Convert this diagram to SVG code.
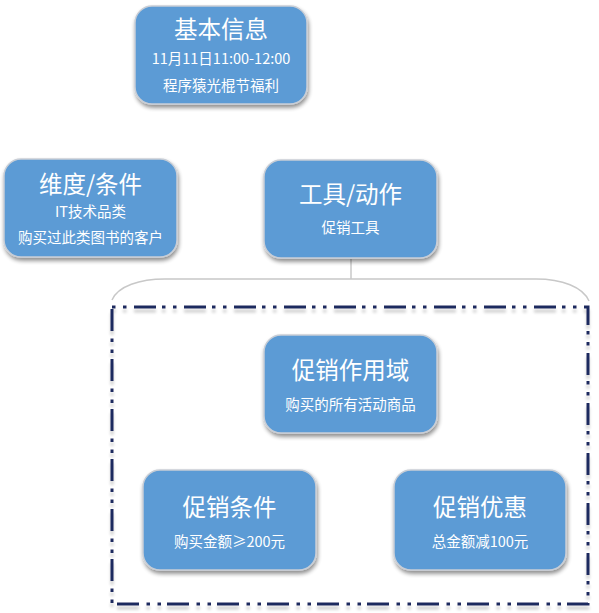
<svg xmlns="http://www.w3.org/2000/svg" width="599" height="613" viewBox="0 0 599 613">
<defs>
<filter id="sh" x="-10%" y="-10%" width="125%" height="130%">
<feGaussianBlur in="SourceAlpha" stdDeviation="2"/>
<feOffset dx="1" dy="3" result="b"/>
<feComponentTransfer><feFuncA type="linear" slope="0.45"/></feComponentTransfer>
<feMerge><feMergeNode/><feMergeNode in="SourceGraphic"/></feMerge>
</filter>
<filter id="sh2" x="-5%" y="-5%" width="110%" height="110%">
<feGaussianBlur in="SourceAlpha" stdDeviation="1.5"/>
<feOffset dx="0" dy="4" result="b"/>
<feComponentTransfer><feFuncA type="linear" slope="0.2"/></feComponentTransfer>
<feMerge><feMergeNode/><feMergeNode in="SourceGraphic"/></feMerge>
</filter>
</defs>
<style>
.box{fill:#5B9BD5;stroke:#C9CED6;stroke-width:1.5;filter:url(#sh)}
text{font-family:"Noto Sans CJK SC","Microsoft YaHei",sans-serif;fill:#fff;text-anchor:middle}
.t{font-size:23.5px}
.s{font-size:14.5px}
.c{fill:none;stroke:#C8C8C8;stroke-width:1.5}
.f{fill:none;stroke:#1F2A5E;stroke-width:3;stroke-dasharray:3.5 7.5 3.5 7.5 22 6;filter:url(#sh2)}
</style>
<g id="connectors">
<path class="c" d="M351 259 V279"/>
<path class="c" d="M112 300 C118 286 140 279 165 279 H536 C562 279 583 287 589 301"/>
</g>
<g id="frame">
<rect class="f" x="112" y="307" width="476" height="297"/>
</g>
<g id="basic">
<rect class="box" x="135" y="6" width="172" height="98" rx="17"/>
<text class="t" x="221" y="38">基本信息</text>
<text class="s" x="221" y="64">11月11日11:00-12:00</text>
<text class="s" x="221" y="91">程序猿光棍节福利</text>
</g>
<g id="dimension">
<rect class="box" x="4" y="159" width="173" height="98" rx="17"/>
<text class="t" x="90.5" y="193">维度/条件</text>
<text class="s" x="90.5" y="217">IT技术品类</text>
<text class="s" x="90.5" y="243">购买过此类图书的客户</text>
</g>
<g id="tool">
<rect class="box" x="264" y="160" width="173" height="98" rx="17"/>
<text class="t" x="350.5" y="203">工具/动作</text>
<text class="s" x="350.5" y="233">促销工具</text>
</g>
<g id="scope">
<rect class="box" x="264" y="335" width="173" height="98" rx="17"/>
<text class="t" x="350.5" y="379">促销作用域</text>
<text class="s" x="350.5" y="410">购买的所有活动商品</text>
</g>
<g id="condition">
<rect class="box" x="143" y="470" width="173" height="100" rx="17"/>
<text class="t" x="229.5" y="516">促销条件</text>
<text class="s" x="229.5" y="547">购买金额≥200元</text>
</g>
<g id="discount">
<rect class="box" x="394" y="470" width="172" height="100" rx="17"/>
<text class="t" x="480" y="516">促销优惠</text>
<text class="s" x="480" y="547">总金额减100元</text>
</g>
</svg>
